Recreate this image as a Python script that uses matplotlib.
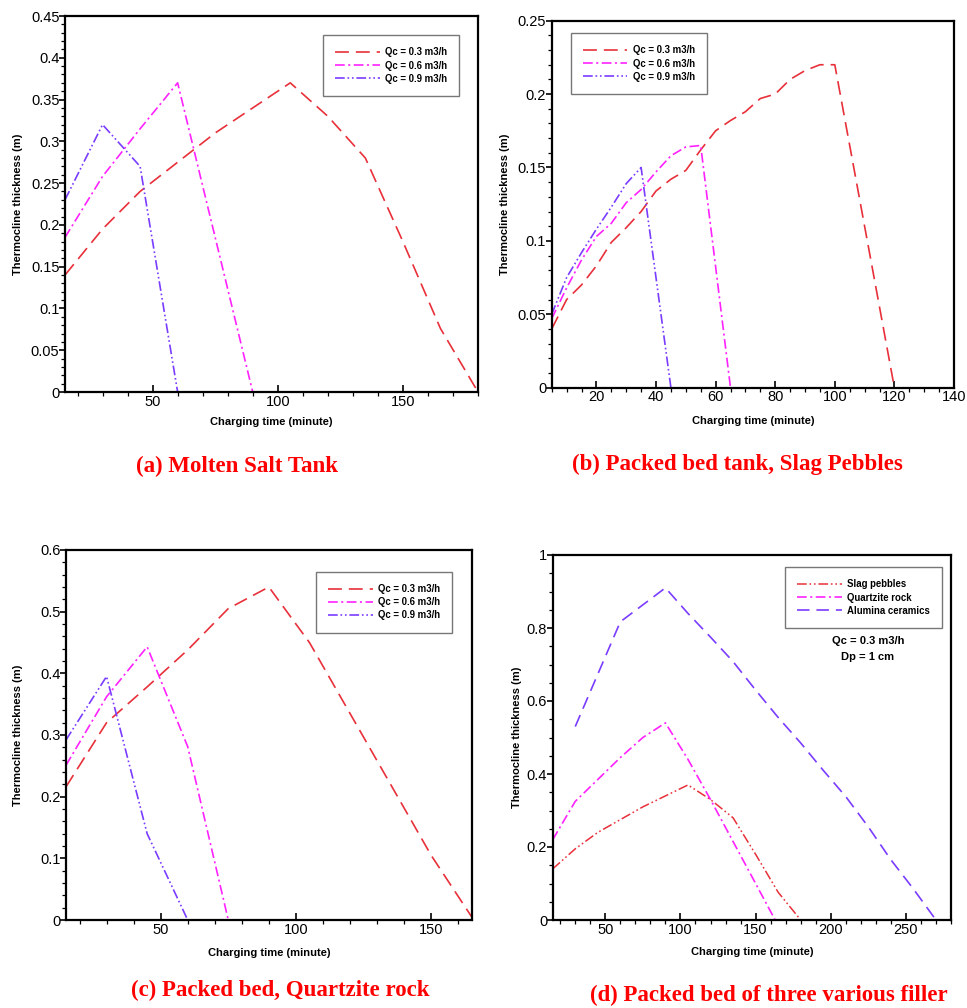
import numpy as np
import matplotlib
matplotlib.use("Agg")
import matplotlib.pyplot as plt
from matplotlib.ticker import MultipleLocator

plt.rcParams['font.family'] = ['Liberation Sans', 'DejaVu Sans']
plt.rcParams['lines.scale_dashes'] = False

# ------------------------------------------------------------
# DATA
# ------------------------------------------------------------

# (a) Molten salt tank
a_t_03 = [15, 30, 45, 60, 75, 90, 105, 120, 135, 150, 165, 180]
a_y_03 = [0.14, 0.195, 0.24, 0.275, 0.31, 0.34, 0.37, 0.33, 0.28, 0.18, 0.076, 0.0]
a_t_06 = [15, 30, 45, 60, 75, 90]
a_y_06 = [0.185, 0.258, 0.315, 0.37, 0.185, 0.0]
a_t_09 = [15, 30, 45, 60]
a_y_09 = [0.23, 0.32, 0.27, 0.0]

# (b) Packed bed, slag pebbles
b_t_03 = [5, 10, 15, 20, 25, 30, 35, 40, 45, 50, 55, 60, 65, 70, 75, 80, 85, 90, 95, 100, 120]
b_y_03 = [0.04, 0.06, 0.07, 0.083, 0.099, 0.109, 0.12, 0.134, 0.142, 0.148, 0.162, 0.175,
          0.182, 0.188, 0.197, 0.2, 0.21, 0.216, 0.22, 0.22, 0.0]
b_t_06 = [5, 10, 15, 20, 25, 30, 35, 40, 45, 50, 55, 65]
b_y_06 = [0.047, 0.068, 0.087, 0.103, 0.112, 0.126, 0.135, 0.147, 0.158, 0.164, 0.165, 0.0]
b_t_09 = [5, 10, 15, 20, 25, 30, 35, 45]
b_y_09 = [0.05, 0.075, 0.092, 0.108, 0.123, 0.139, 0.15, 0.0]

# (c) Packed bed, quartzite rock
c_t_03 = [15, 30, 45, 60, 75, 90, 105, 120, 135, 150, 165]
c_y_03 = [0.216, 0.32, 0.378, 0.438, 0.505, 0.54, 0.45, 0.335, 0.22, 0.105, 0.005]
c_t_06 = [15, 30, 45, 60, 75]
c_y_06 = [0.251, 0.362, 0.443, 0.281, 0.0]
c_t_09 = [15, 30, 45, 60]
c_y_09 = [0.292, 0.395, 0.14, 0.0]

# (d) three fillers, Qc = 0.3 m3/h
d_t_slag = a_t_03
d_y_slag = a_y_03
d_t_quartz = [15, 30, 45, 60, 75, 90, 105, 120, 135, 150, 163]
d_y_quartz = [0.22, 0.325, 0.385, 0.445, 0.50, 0.54, 0.44, 0.33, 0.215, 0.10, 0.0]
d_t_alum = [30, 60, 90, 105, 120, 135, 150, 165, 180, 195, 210, 225, 240, 255, 270]
d_y_alum = [0.53, 0.817, 0.91, 0.84, 0.775, 0.708, 0.63, 0.555, 0.485, 0.41, 0.338,
            0.255, 0.165, 0.085, 0.0]

qc_labels = ["Qc = 0.3 m3/h", "Qc = 0.6 m3/h", "Qc = 0.9 m3/h"]
filler_labels = ["Slag pebbles", "Quartzite rock", "Alumina ceramics"]
captions = ["(a) Molten Salt Tank", "(b) Packed bed tank, Slag Pebbles",
            "(c) Packed bed, Quartzite rock", "(d) Packed bed of three various filler"]

# ------------------------------------------------------------
# STYLE
# ------------------------------------------------------------
W, H = 967, 1008
RED = '#e8303a'
MAG = '#ff22ff'
BLUE = '#7a3cff'
DASH = (0, (10, 5))
DASHDOT = (0, (7, 2.5, 1.5, 2.5))
DASHDOTDOT = (0, (7, 2, 1.2, 2, 1.2, 2))


def box(l, t, r, b):
    return [l / W, 1 - b / H, (r - l) / W, (b - t) / H]


def fx(x):
    return x / W


def fy(y):
    return 1 - y / H


fig = plt.figure(figsize=(W / 100, H / 100), dpi=100)


def setup(ax, xlim, ylim, xmaj, xmin, ymaj, ymin, yfmt=None):
    ax.set_xlim(*xlim)
    ax.set_ylim(*ylim)
    ax.xaxis.set_major_locator(MultipleLocator(xmaj))
    ax.xaxis.set_minor_locator(MultipleLocator(xmin))
    ax.yaxis.set_major_locator(MultipleLocator(ymaj))
    ax.yaxis.set_minor_locator(MultipleLocator(ymin))
    for s in ax.spines.values():
        s.set_linewidth(1.6)
    ax.tick_params(axis='both', which='major', labelsize=10.5, length=5, width=1.2)
    ax.tick_params(axis='both', which='minor', length=3, width=0.9)
    ax.tick_params(axis='x', direction='in', pad=2)
    ax.tick_params(axis='y', direction='out', length=4, pad=0)
    ax.tick_params(axis='y', which='minor', length=3)
    if yfmt:
        ax.yaxis.set_major_formatter(yfmt)


def yfmt_fn(v, pos):
    if abs(v) < 1e-9:
        return '0'
    return ('%g' % round(v, 3))


def make_legend(ax, labels, left, top, pad):
    leg = ax.legend(labels=labels, handles=ax.get_lines(), loc='upper left',
                    bbox_to_anchor=(fx(left), fy(top)), bbox_transform=fig.transFigure,
                    prop={'weight': 'bold', 'size': 6.9},
                    frameon=True, fancybox=False, edgecolor='#555555',
                    borderpad=pad, labelspacing=0.32, handlelength=4.6,
                    handletextpad=0.55, borderaxespad=0)
    leg.get_frame().set_linewidth(1.0)
    return leg


# (a)
ax1 = fig.add_axes(box(65, 16, 478, 392))
ax1.plot(a_t_03, a_y_03, color=RED, lw=1.2, linestyle=DASH)
ax1.plot(a_t_06, a_y_06, color=MAG, lw=1.2, linestyle=DASHDOT)
ax1.plot(a_t_09, a_y_09, color=BLUE, lw=1.2, linestyle=DASHDOTDOT)
setup(ax1, (15, 180), (0, 0.45), 50, 10, 0.05, 0.01, plt.FuncFormatter(yfmt_fn))
make_legend(ax1, qc_labels, 323, 35, 1.3)

# (b)
ax2 = fig.add_axes(box(551.7, 20.7, 954, 387.7))
ax2.plot(b_t_03, b_y_03, color=RED, lw=1.2, linestyle=DASH)
ax2.plot(b_t_06, b_y_06, color=MAG, lw=1.2, linestyle=DASHDOT)
ax2.plot(b_t_09, b_y_09, color=BLUE, lw=1.2, linestyle=DASHDOTDOT)
setup(ax2, (5, 140), (0, 0.25), 20, 5, 0.05, 0.01, plt.FuncFormatter(yfmt_fn))
make_legend(ax2, qc_labels, 570.7, 33, 1.3)

# (c)
ax3 = fig.add_axes(box(66, 550, 471.7, 920))
ax3.plot(c_t_03, c_y_03, color=RED, lw=1.2, linestyle=DASH)
ax3.plot(c_t_06, c_y_06, color=MAG, lw=1.2, linestyle=DASHDOT)
ax3.plot(c_t_09, c_y_09, color=BLUE, lw=1.2, linestyle=DASHDOTDOT)
setup(ax3, (15, 165), (0, 0.6), 50, 10, 0.1, 0.02, plt.FuncFormatter(yfmt_fn))
make_legend(ax3, qc_labels, 316, 571.7, 1.3)

# (d)
ax4 = fig.add_axes(box(552.7, 555, 951, 920))
ax4.plot(d_t_slag, d_y_slag, color=RED, lw=1.1, linestyle=DASHDOTDOT)
ax4.plot(d_t_quartz, d_y_quartz, color=MAG, lw=1.2, linestyle=DASHDOT)
ax4.plot(d_t_alum, d_y_alum, color=BLUE, lw=1.2, linestyle=(0, (9, 5)))
setup(ax4, (15, 280), (0, 1.0), 50, 10, 0.2, 0.05, plt.FuncFormatter(yfmt_fn))
make_legend(ax4, filler_labels, 785, 567, 1.3)
fig.text(fx(868), fy(641), "Qc = 0.3 m3/h", ha='center', va='center', fontsize=8, weight='bold')
fig.text(fx(868), fy(657), "Dp = 1 cm", ha='center', va='center', fontsize=8, weight='bold')

# axis labels
ylab_x = [18, 505, 18, 517]
ylab_y = [204, 204, 735, 737]
xlab_x = [271, 753, 269, 752]
xlab_y = [422, 421, 953, 952]
for i in range(4):
    fig.text(fx(ylab_x[i]), fy(ylab_y[i]), "Thermocline thickness (m)", rotation=90,
             ha='center', va='center', fontsize=8, weight='bold')
    fig.text(fx(xlab_x[i]), fy(xlab_y[i]), "Charging time (minute)",
             ha='center', va='center', fontsize=8, weight='bold')

# captions
cap_x = [237, 737, 280, 769]
cap_y = [466, 464, 990, 995]
for i in range(4):
    fig.text(fx(cap_x[i]), fy(cap_y[i]), captions[i], ha='center', va='center',
             fontsize=16.5, weight='bold', color='#ff0000', family='Liberation Serif')

fig.savefig("out.png", dpi=100)
